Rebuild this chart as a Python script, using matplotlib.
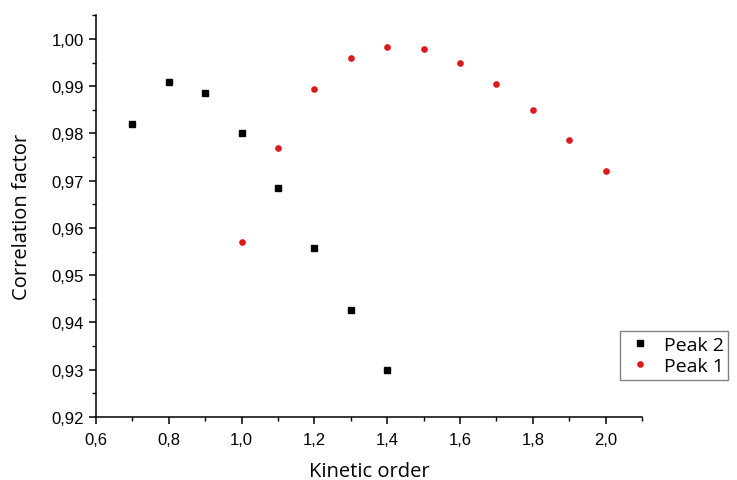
import matplotlib
matplotlib.use("Agg")
import matplotlib.pyplot as plt
from matplotlib.ticker import FuncFormatter, MultipleLocator

# data
peak2_order = [0.7, 0.8, 0.9, 1.0, 1.1, 1.2, 1.3, 1.4]
peak2_corr = [0.9820, 0.9909, 0.9886, 0.9800, 0.9685, 0.9557, 0.9427, 0.9299]

peak1_order = [1.0, 1.1, 1.2, 1.3, 1.4, 1.5, 1.6, 1.7, 1.8, 1.9, 2.0]
peak1_corr = [0.9571, 0.9770, 0.9894, 0.9960, 0.9984, 0.9978, 0.9949,
              0.9904, 0.9849, 0.9787, 0.9720]

label_font = "Open Sans"
tick_font = "Liberation Sans"

fig = plt.figure(figsize=(7.37, 4.81), dpi=100)
ax = fig.add_axes([0.1303, 0.131, 0.7408, 0.835])

ax.plot(peak2_order, peak2_corr, linestyle="none", marker="s", markersize=4.2,
        color="black", label="Peak 2")
ax.plot(peak1_order, peak1_corr, linestyle="none", marker="o", markersize=4.8,
        color="#dc1a1c", markeredgewidth=0, label="Peak 1")

ax.set_xlim(0.6, 2.1)
ax.set_ylim(0.92, 1.005)

ax.xaxis.set_major_locator(MultipleLocator(0.2))
ax.xaxis.set_minor_locator(MultipleLocator(0.1))
ax.yaxis.set_major_locator(MultipleLocator(0.01))
ax.yaxis.set_minor_locator(MultipleLocator(0.005))
ax.xaxis.set_major_formatter(FuncFormatter(lambda v, p: f"{v:.1f}".replace(".", ",")))
ax.yaxis.set_major_formatter(FuncFormatter(lambda v, p: f"{v:.2f}".replace(".", ",")))

for side in ("top", "right"):
    ax.spines[side].set_visible(False)
for side in ("left", "bottom"):
    ax.spines[side].set_linewidth(1.1)

ax.tick_params(which="major", direction="out", length=5, width=1.1, labelsize=12,
               labelfontfamily=tick_font)
ax.tick_params(axis="x", which="major", pad=6)
ax.tick_params(which="minor", direction="out", length=3, width=1.0)

ax.set_xlabel("Kinetic order", fontsize=14.5, family=label_font, labelpad=10)
ax.set_ylabel("Correlation factor", fontsize=14.5, family=label_font, labelpad=14)

fig.legend(loc="upper left", bbox_to_anchor=(0.841, 0.31), borderaxespad=0,
           frameon=True, fancybox=False, edgecolor="#808080", framealpha=1,
           prop={"family": label_font, "size": 14}, handletextpad=0.4,
           handlelength=1.6, borderpad=0.25, labelspacing=0.15)

fig.savefig("out.png", dpi=100)
